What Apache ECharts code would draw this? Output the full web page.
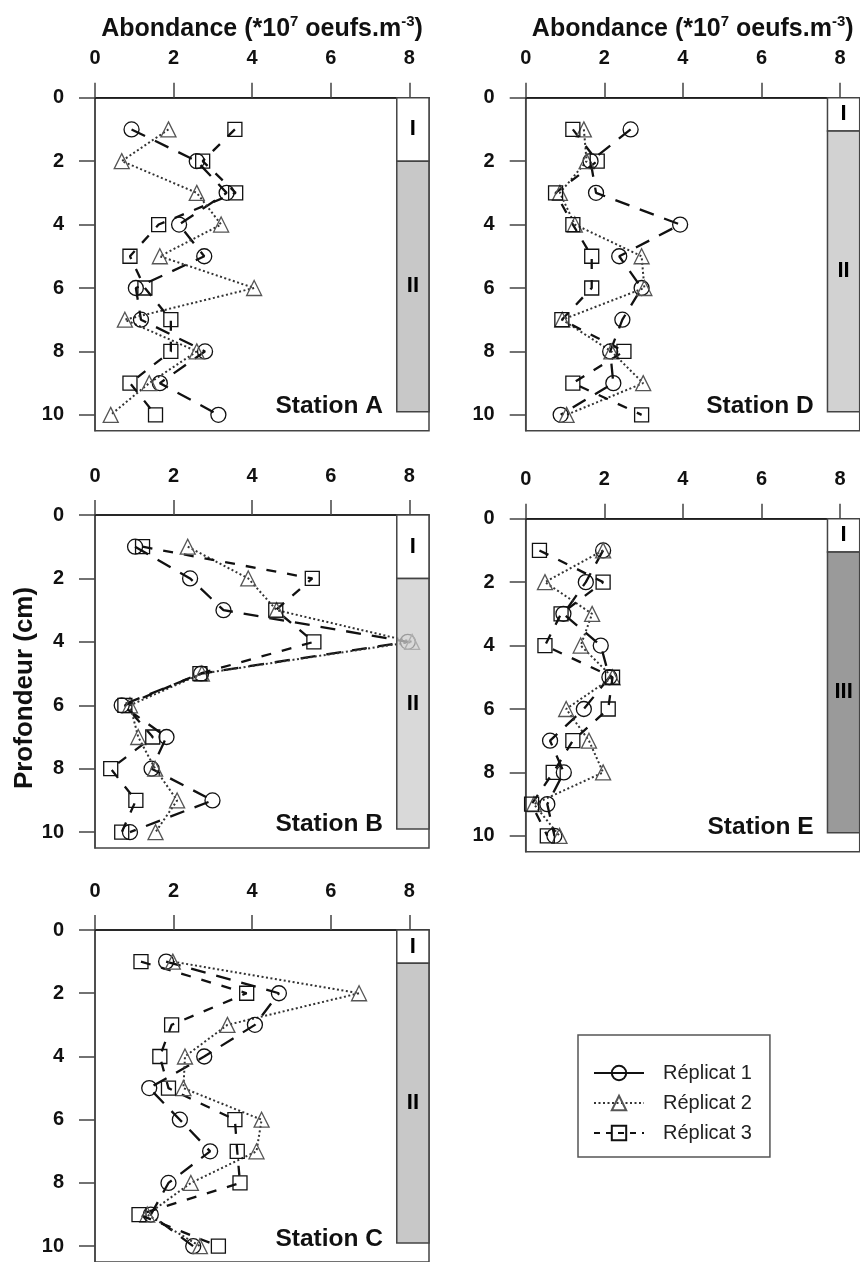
<!DOCTYPE html>
<html>
<head>
<meta charset="utf-8">
<script src="https://cdn.jsdelivr.net/npm/echarts@6/dist/echarts.min.js"></script>
<style>
  html, body { margin: 0; padding: 0; background: #fff; }
  #chart { width: 860px; height: 1262px; }
</style>
</head>
<body>
<div id="chart"></div>
<script>
// Sampling depths (cm) and axis ticks
const depths = [1, 2, 3, 4, 5, 6, 7, 8, 9, 10];
const xTicks = [0, 2, 4, 6, 8];
const yTicks = [0, 2, 4, 6, 8, 10];
const replicateNames = ['Réplicat 1', 'Réplicat 2', 'Réplicat 3'];

// Egg abundance (*10^7 eggs.m^-3) per depth, for each station and replicate
const stationA_rep1 = [0.93, 2.59, 3.35, 2.14, 2.78, 1.04, 1.17, 2.80, 1.65, 3.14];
const stationA_rep2 = [1.87, 0.68, 2.59, 3.21, 1.65, 4.05, 0.76, 2.59, 1.38, 0.40];
const stationA_rep3 = [3.56, 2.74, 3.58, 1.62, 0.89, 1.27, 1.93, 1.93, 0.89, 1.54];

const stationD_rep1 = [2.67, 1.65, 1.79, 3.93, 2.38, 2.95, 2.46, 2.15, 2.23, 0.89];
const stationD_rep2 = [1.48, 1.55, 0.87, 1.25, 2.95, 3.02, 0.93, 2.18, 2.99, 1.04];
const stationD_rep3 = [1.20, 1.82, 0.76, 1.20, 1.68, 1.68, 0.92, 2.50, 1.20, 2.95];

const stationB_rep1 = [1.02, 2.42, 3.27, 7.96, 2.70, 0.68, 1.82, 1.44, 2.99, 0.89];
const stationB_rep2 = [2.36, 3.90, 4.62, 8.07, 2.72, 0.89, 1.10, 1.53, 2.09, 1.54];
const stationB_rep3 = [1.21, 5.53, 4.60, 5.57, 2.67, 0.76, 1.47, 0.40, 1.04, 0.68];

const stationE_rep1 = [1.97, 1.53, 0.96, 1.91, 2.13, 1.48, 0.62, 0.97, 0.55, 0.73];
const stationE_rep2 = [1.97, 0.49, 1.69, 1.40, 2.21, 1.03, 1.61, 1.97, 0.21, 0.86];
const stationE_rep3 = [0.35, 1.97, 0.90, 0.49, 2.21, 2.10, 1.20, 0.70, 0.15, 0.55];

const stationC_rep1 = [1.81, 4.68, 4.07, 2.78, 1.38, 2.16, 2.93, 1.87, 1.42, 2.50];
const stationC_rep2 = [1.98, 6.72, 3.37, 2.29, 2.25, 4.24, 4.11, 2.44, 1.33, 2.67];
const stationC_rep3 = [1.17, 3.86, 1.95, 1.65, 1.87, 3.56, 3.62, 3.69, 1.12, 3.14];

// Sediment zones: names and depth limits (cm)
const stationA_zoneNames = ['I', 'II'];
const stationA_zoneDepths = [0, 2, 9.9];
const stationD_zoneNames = ['I', 'II'];
const stationD_zoneDepths = [0, 1.05, 9.9];
const stationB_zoneNames = ['I', 'II'];
const stationB_zoneDepths = [0, 2, 9.9];
const stationE_zoneNames = ['I', 'III'];
const stationE_zoneDepths = [0, 1.05, 9.9];
const stationC_zoneNames = ['I', 'II'];
const stationC_zoneDepths = [0, 1.05, 9.9];

// ---- styling / layout ----
const FONT = '"Liberation Sans", Arial, sans-serif';
const TICK_FONT = '"Liberation Sans Narrow", "Liberation Sans", Arial, sans-serif';
const X_MAX = 8.5, Y_MAX = 10.5, ZONE_X0 = 7.68;
const PANEL_W = 334, PANEL_H = 333;

const panels = [
  { label: 'Station A', reps: [stationA_rep1, stationA_rep2, stationA_rep3], zoneNames: stationA_zoneNames, zoneDepths: stationA_zoneDepths, fills: ['#ffffff', '#c8c8c8'], left: 95, top: 97.7, title: true },
  { label: 'Station D', reps: [stationD_rep1, stationD_rep2, stationD_rep3], zoneNames: stationD_zoneNames, zoneDepths: stationD_zoneDepths, fills: ['#ffffff', '#d2d2d2'], left: 525.7, top: 97.7, title: true },
  { label: 'Station B', reps: [stationB_rep1, stationB_rep2, stationB_rep3], zoneNames: stationB_zoneNames, zoneDepths: stationB_zoneDepths, fills: ['#ffffff', '#d9d9d9'], left: 95, top: 515, title: false },
  { label: 'Station E', reps: [stationE_rep1, stationE_rep2, stationE_rep3], zoneNames: stationE_zoneNames, zoneDepths: stationE_zoneDepths, fills: ['#ffffff', '#9a9a9a'], left: 525.7, top: 518.7, title: false },
  { label: 'Station C', reps: [stationC_rep1, stationC_rep2, stationC_rep3], zoneNames: stationC_zoneNames, zoneDepths: stationC_zoneDepths, fills: ['#ffffff', '#c8c8c8'], left: 95, top: 930, title: false }
];

const repStyles = [
  { symbol: 'circle', size: 15, stroke: '#111', line: { color: '#111', width: 2.3, type: [15, 11] } },
  { symbol: 'triangle', size: 15, stroke: '#555', line: { color: '#333', width: 2, type: [2, 2.5] } },
  { symbol: 'rect', size: 14, stroke: '#111', line: { color: '#111', width: 2.3, type: [10, 11] } }
];

// Semi-transparent version of a grey so marks under the zone bar look faded
function veil(hex) {
  const g = parseInt(hex.slice(1, 3), 16);
  const a = 0.74;
  const c = Math.max(0, Math.round((g - (1 - a) * 255) / a));
  return 'rgba(' + c + ',' + c + ',' + c + ',' + a + ')';
}

const grids = [], xAxes = [], yAxes = [], series = [], graphics = [];

panels.forEach((p, i) => {
  grids.push({ left: p.left, top: p.top, width: PANEL_W, height: PANEL_H, show: true, borderColor: '#444', borderWidth: 1.5, backgroundColor: '#fff' });
  xAxes.push({
    gridIndex: i, type: 'value', position: 'top', min: 0, max: X_MAX,
    axisLine: { show: true, lineStyle: { color: '#111', width: 1.5 } },
    axisTick: { show: true, length: 15, customValues: xTicks, lineStyle: { color: '#444', width: 1.5 } },
    axisLabel: { customValues: xTicks, margin: 29, color: '#111', fontFamily: TICK_FONT, fontWeight: 'bold', fontSize: 20 },
    splitLine: { show: false }
  });
  yAxes.push({
    gridIndex: i, type: 'value', inverse: true, min: 0, max: Y_MAX,
    axisLine: { show: true, lineStyle: { color: '#444', width: 1.5 } },
    axisTick: { show: true, length: 16, customValues: yTicks, lineStyle: { color: '#444', width: 1.5 } },
    axisLabel: { customValues: yTicks, margin: 31, color: '#111', fontFamily: TICK_FONT, fontWeight: 'bold', fontSize: 20 },
    splitLine: { show: false }
  });

  p.reps.forEach((vals, r) => {
    const st = repStyles[r];
    series.push({
      name: replicateNames[r], type: 'line', xAxisIndex: i, yAxisIndex: i,
      data: depths.map((d, k) => [vals[k], d]),
      symbol: st.symbol, symbolSize: st.size, showSymbol: true,
      itemStyle: { color: 'rgba(0,0,0,0)', borderColor: st.stroke, borderWidth: 1.3 },
      lineStyle: st.line, z: 2, animation: false, silent: true
    });
  });

  // Sediment zone bar on the right edge of the panel
  series.push({
    type: 'custom', xAxisIndex: i, yAxisIndex: i, z: 4, silent: true, animation: false,
    data: p.zoneNames.map((n, k) => [p.zoneDepths[k], p.zoneDepths[k + 1], k]),
    encode: { x: -1, y: -1 },
    renderItem: (params, api) => {
      const k = api.value(2);
      const a = api.coord([ZONE_X0, api.value(0)]);
      const b = api.coord([X_MAX, api.value(1)]);
      return {
        type: 'group',
        children: [
          { type: 'rect', shape: { x: a[0], y: a[1], width: b[0] - a[0], height: b[1] - a[1] },
            style: { fill: k === 0 ? '#fff' : veil(p.fills[k]), stroke: '#444', lineWidth: 1.5 } },
          { type: 'text', style: { text: p.zoneNames[k], x: (a[0] + b[0]) / 2, y: (a[1] + b[1]) / 2, align: 'center', verticalAlign: 'middle', fill: '#000', font: 'bold 22px ' + FONT } }
        ]
      };
    }
  });

  graphics.push({
    type: 'text', x: p.left + 288, y: p.top + 309, z: 10,
    style: { text: p.label, align: 'right', verticalAlign: 'middle', fill: '#111', font: 'bold 24.5px ' + FONT }
  });

  if (p.title) {
    graphics.push({
      type: 'text', x: p.left + PANEL_W / 2, y: 29, z: 10,
      style: {
        text: '{n|Abondance (*10}{s|7}{n| oeufs.m}{s|-3}{n|)}',
        align: 'center', verticalAlign: 'middle',
        rich: {
          n: { fontFamily: FONT, fontWeight: 'bold', fontSize: 25, fill: '#111', lineHeight: 30 },
          s: { fontFamily: FONT, fontWeight: 'bold', fontSize: 15, fill: '#111', verticalAlign: 'top', lineHeight: 17 }
        }
      }
    });
  }
});

graphics.push({
  type: 'text', x: 25, y: 688, rotation: Math.PI / 2, z: 10,
  style: { text: 'Profondeur (cm)', align: 'center', verticalAlign: 'middle', fill: '#111', font: 'bold 26px ' + FONT }
});

const chart = echarts.init(document.getElementById('chart'), null, { renderer: 'canvas' });
chart.setOption({
  backgroundColor: '#fff',
  animation: false,
  grid: grids,
  xAxis: xAxes,
  yAxis: yAxes,
  series: series,
  graphic: graphics,
  legend: {
    data: [
      { name: replicateNames[0], lineStyle: { type: 'solid' } },
      { name: replicateNames[1] },
      { name: replicateNames[2], lineStyle: { type: [6, 6] } }
    ],
    orient: 'vertical', left: 578, top: 1035,
    padding: [28, 18, 14, 15], itemWidth: 50, itemHeight: 18, itemGap: 10,
    borderColor: '#555', borderWidth: 1.5, backgroundColor: '#fff',
    selectedMode: false,
    textStyle: { fontFamily: FONT, fontSize: 20, color: '#222', padding: [0, 0, 0, 14] }
  }
});
</script>
</body>
</html>
